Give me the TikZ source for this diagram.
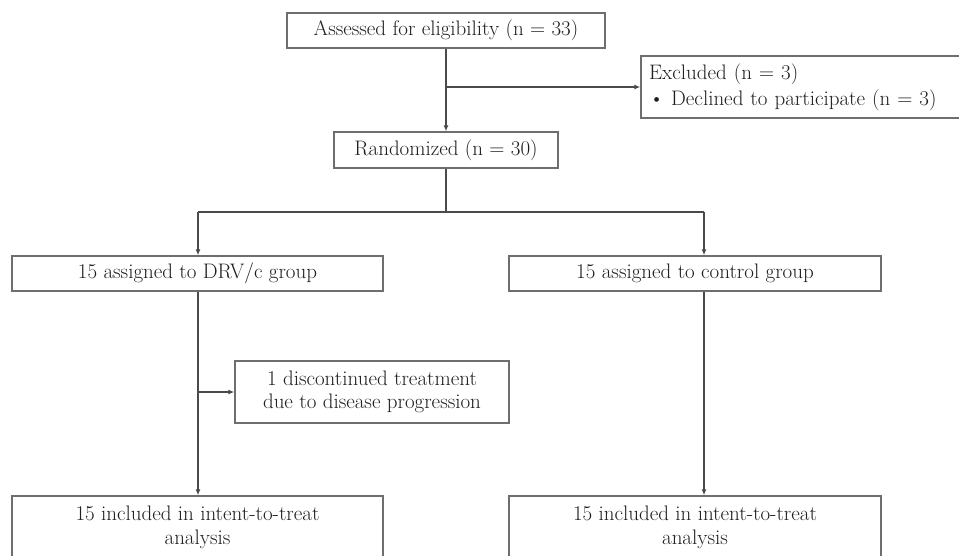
\documentclass[tikz,border=0pt]{standalone}
\usepackage{fontspec}
\setmainfont{Latin Modern Roman}
\usetikzlibrary{arrows.meta}
\definecolor{boxgray}{HTML}{6E6E6E}
\definecolor{linegray}{HTML}{4A4A4A}
\definecolor{txt}{HTML}{1E1E1E}
\begin{document}
\begin{tikzpicture}[x=1pt,y=-1pt,
  box/.style={draw=boxgray,line width=1.5pt,rectangle,inner sep=0pt,text=txt,
    font=\fontsize{21}{26}\selectfont,align=center},
  conn/.style={draw=linegray,line width=1.1pt},
  arr/.style={conn,-{Latex[length=6pt,width=5pt]}}]
\useasboundingbox (0,0) rectangle (959,555);
\clip (0,0) rectangle (959,555);
\node[box,minimum width=318,minimum height=35] (top) at (446,30.5) {Assessed for eligibility (n = 33)};
\node[box,minimum width=224,minimum height=36] (rand) at (446,150) {Randomized (n = 30)};
\node[box,minimum height=62,text width=308,inner xsep=8pt,align=left] (excl) at (803,87)
  {Excluded (n = 3)\\\textbullet{} Declined to participate (n = 3)};
\node[box,minimum width=371,minimum height=35] (drv) at (197.5,273.5) {15 assigned to DRV/c group};
\node[box,minimum width=372,minimum height=35] (ctrl) at (695,273.5) {15 assigned to control group};
\node[box,minimum width=274,minimum height=62,font=\fontsize{21}{23}\selectfont] (disc) at (372,392)
  {1 discontinued treatment\\due to disease progression};
\node[box,minimum width=371,minimum height=62,font=\fontsize{21}{24}\selectfont] (itt1) at (197.5,527)
  {15 included in intent-to-treat\\analysis};
\node[box,minimum width=372,minimum height=62,font=\fontsize{21}{24}\selectfont] (itt2) at (695,527)
  {15 included in intent-to-treat\\analysis};
\coordinate (j1) at (446,87);
\coordinate (bl) at (198,212);
\coordinate (bm) at (446,212);
\coordinate (br) at (704,212);
\coordinate (j2) at (198,392);
\draw[arr] (top.south) -- (rand.north);
\draw[arr] (j1) -- (excl.west);
\draw[conn] (rand.south) -- (bm);
\draw[conn] (bl) -- (br);
\draw[arr] (bl) -- (bl |- drv.north);
\draw[arr] (br) -- (br |- ctrl.north);
\draw[arr] (bl |- drv.south) -- (bl |- itt1.north);
\draw[arr] (j2) -- (disc.west);
\draw[arr] (br |- ctrl.south) -- (br |- itt2.north);
\end{tikzpicture}
\end{document}
